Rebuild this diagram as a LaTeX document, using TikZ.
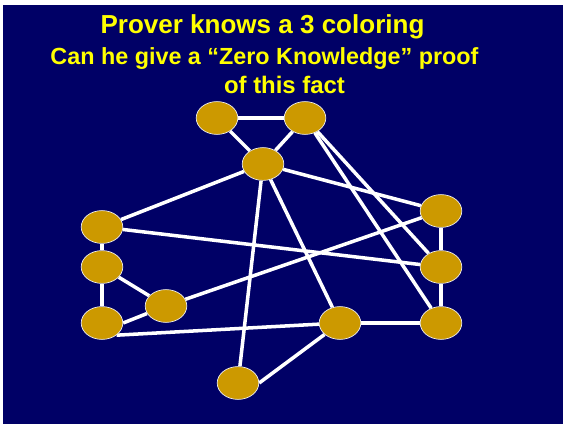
\documentclass[tikz,border=0pt]{standalone}
\usepackage{fontspec}
\setmainfont{Liberation Sans}
\definecolor{slidenavy}{RGB}{0, 0, 102}
\definecolor{vertgold}{RGB}{204, 153, 0}
\definecolor{titleyellow}{RGB}{255, 255, 0}
\usetikzlibrary{shapes.geometric}
\pgfdeclarelayer{edgelayer}
\pgfsetlayers{edgelayer,main}
\tikzset{
	vertex/.style={ellipse, draw=white!85!gray, fill=vertgold, line width=0.5pt, minimum width=1.04cm, minimum height=0.82cm, inner sep=0pt},
	edge/.style={draw=white, line width=2.5pt},
	headline/.style={text=titleyellow, inner sep=0pt, anchor=base},
}

\begin{document}
\begin{tikzpicture}[x=0.025cm, y=-0.025cm]
		\useasboundingbox (0,0) rectangle (566,426);
		% title
		\node[headline, font=\bfseries\fontsize{18.5}{22}\selectfont] (title1) at (262.5,34) {Prover knows a 3 coloring};
		\node[headline, font=\bfseries\fontsize{16.6}{20}\selectfont] (title2) at (264.5,65) {Can he give a “Zero Knowledge” proof};
		\node[headline, font=\bfseries\fontsize{17}{20}\selectfont] (title3) at (284.5,93.5) {of this fact};
		% vertices
		\node[vertex] (a) at (217,118) {};
		\node[vertex] (b) at (305,118) {};
		\node[vertex] (c) at (263,164) {};
		\node[vertex] (d) at (102,227) {};
		\node[vertex] (e) at (102,267) {};
		\node[vertex] (f) at (102,323) {};
		\node[vertex] (g) at (166,306) {};
		\node[vertex] (h) at (238,383) {};
		\node[vertex] (i) at (340,323) {};
		\node[vertex] (j) at (441,211) {};
		\node[vertex] (k) at (441,267) {};
		\node[vertex] (l) at (441,323) {};
		% edges
		\begin{pgfonlayer}{edgelayer}
			\fill[slidenavy] (3,5) rectangle (563,424);
			\draw[edge] (a) -- (b);
			\draw[edge] (a) -- (c);
			\draw[edge] (b) -- (c);
			\draw[edge] (c) -- (d);
			\draw[edge] (c) -- (j);
			\draw[edge] (c) -- (h);
			\draw[edge] (c) -- (i);
			\draw[edge] (b) -- (k);
			\draw[edge] (b) -- (l);
			\draw[edge] (d) -- (e);
			\draw[edge] (d) -- (k);
			\draw[edge] (e) -- (f);
			\draw[edge] (e) -- (g);
			\draw[edge] (g) -- (f.east);
			\draw[edge] (g) -- (j);
			\draw[edge] (f.-40) -- (i);
			\draw[edge] (h.east) -- (i);
			\draw[edge] (i) -- (l);
			\draw[edge] (j) -- (k);
			\draw[edge] (k) -- (l);
		\end{pgfonlayer}
	\end{tikzpicture}
\end{document}
